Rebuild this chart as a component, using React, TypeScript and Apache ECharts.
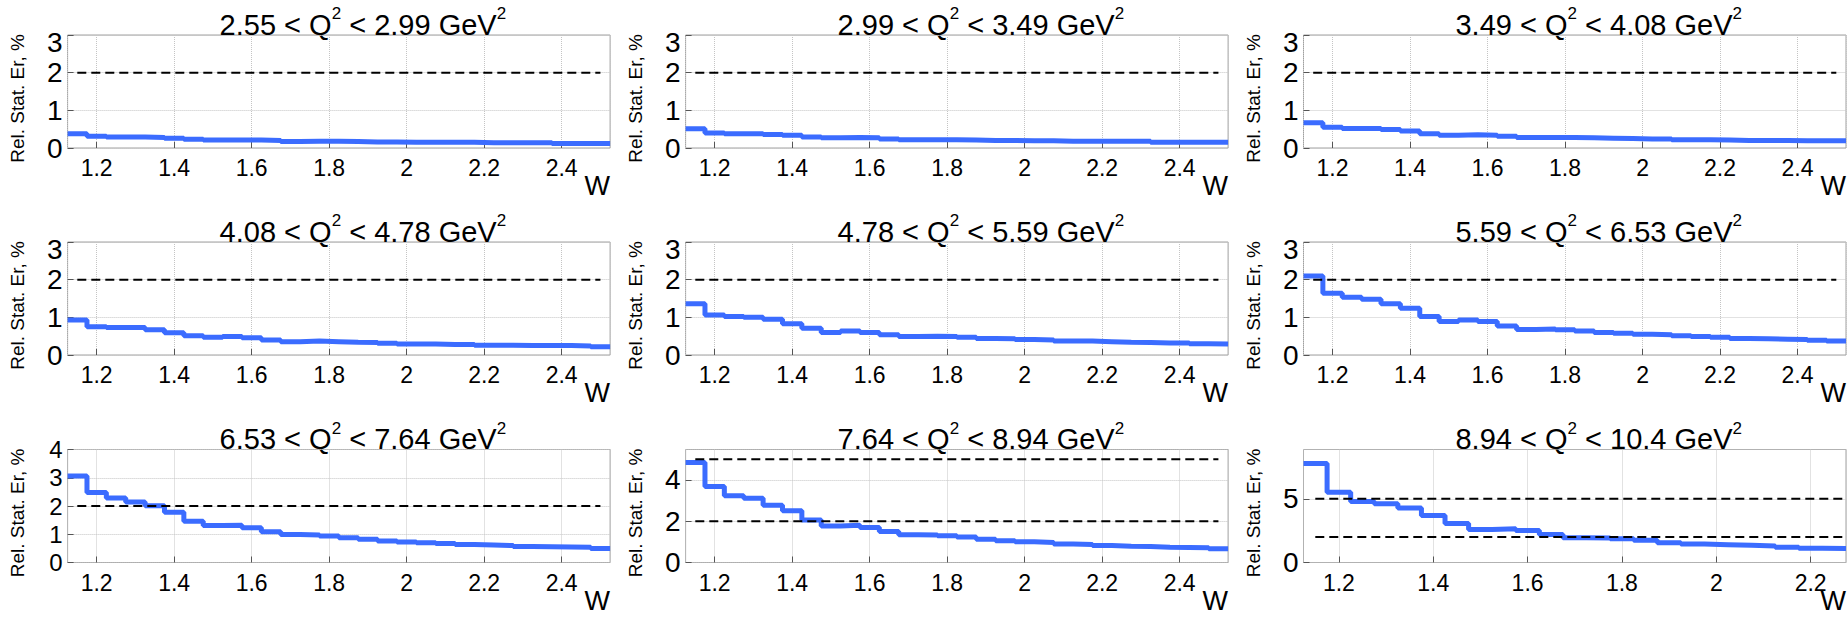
import React, { useEffect, useRef } from "react";
import * as echarts from "echarts";

// Bin edges in W (GeV)
const W_EDGES = [
  1.125, 1.175, 1.225, 1.275, 1.325, 1.375, 1.425, 1.475, 1.525, 1.575,
  1.625, 1.675, 1.725, 1.775, 1.825, 1.875, 1.925, 1.975, 2.025, 2.075,
  2.125, 2.175, 2.225, 2.275, 2.325, 2.375, 2.425, 2.475, 2.525,
];

// Q^2 bin boundaries (GeV^2)
const Q2_LOW = ["2.55", "2.99", "3.49", "4.08", "4.78", "5.59", "6.53", "7.64", "8.94"];
const Q2_HIGH = ["2.99", "3.49", "4.08", "4.78", "5.59", "6.53", "7.64", "8.94", "10.4"];

// Relative statistical error, % (one value per W bin)
const ERR_1 = [0.38, 0.31, 0.29, 0.29, 0.28, 0.26, 0.23, 0.21, 0.21, 0.21, 0.2, 0.17, 0.18, 0.18, 0.17, 0.16, 0.16, 0.15, 0.15, 0.15, 0.15, 0.14, 0.14, 0.14, 0.14, 0.12, 0.12, 0.12];
const ERR_2 = [0.51, 0.4, 0.38, 0.38, 0.36, 0.34, 0.29, 0.27, 0.28, 0.27, 0.24, 0.22, 0.22, 0.22, 0.21, 0.2, 0.2, 0.19, 0.19, 0.18, 0.18, 0.18, 0.18, 0.18, 0.15, 0.15, 0.15, 0.15];
const ERR_3 = [0.67, 0.55, 0.52, 0.52, 0.49, 0.45, 0.38, 0.34, 0.35, 0.34, 0.31, 0.28, 0.28, 0.28, 0.27, 0.26, 0.25, 0.24, 0.24, 0.22, 0.22, 0.21, 0.2, 0.2, 0.2, 0.19, 0.19, 0.19];
const ERR_4 = [0.93, 0.75, 0.73, 0.73, 0.67, 0.59, 0.51, 0.47, 0.49, 0.46, 0.4, 0.355, 0.37, 0.355, 0.34, 0.33, 0.31, 0.29, 0.29, 0.28, 0.28, 0.26, 0.26, 0.25, 0.25, 0.25, 0.24, 0.22];
const ERR_5 = [1.36, 1.06, 1.02, 1.0, 0.95, 0.83, 0.71, 0.6, 0.64, 0.6, 0.54, 0.49, 0.5, 0.49, 0.47, 0.44, 0.43, 0.41, 0.4, 0.37, 0.37, 0.355, 0.34, 0.33, 0.32, 0.32, 0.3, 0.29];
const ERR_6 = [2.1, 1.64, 1.53, 1.48, 1.36, 1.24, 1.02, 0.89, 0.93, 0.89, 0.77, 0.68, 0.69, 0.67, 0.64, 0.6, 0.58, 0.55, 0.54, 0.51, 0.49, 0.47, 0.44, 0.43, 0.42, 0.41, 0.39, 0.37];
const ERR_7 = [3.06, 2.48, 2.28, 2.14, 2.01, 1.78, 1.46, 1.31, 1.32, 1.23, 1.09, 0.99, 0.97, 0.94, 0.88, 0.82, 0.76, 0.73, 0.7, 0.67, 0.64, 0.62, 0.6, 0.57, 0.56, 0.55, 0.54, 0.5];
const ERR_8 = [4.84, 3.68, 3.23, 3.11, 2.77, 2.5, 2.06, 1.77, 1.8, 1.69, 1.5, 1.34, 1.33, 1.29, 1.23, 1.13, 1.05, 1.0, 0.97, 0.9, 0.87, 0.82, 0.79, 0.77, 0.74, 0.73, 0.71, 0.66];
const ERR_9 = [7.77, 5.52, 4.79, 4.61, 4.27, 3.68, 3.06, 2.59, 2.64, 2.51, 2.2, 1.94, 1.93, 1.87, 1.74, 1.55, 1.45, 1.4, 1.35, 1.3, 1.19, 1.11, 1.09];
const ERRORS = [ERR_1, ERR_2, ERR_3, ERR_4, ERR_5, ERR_6, ERR_7, ERR_8, ERR_9];

// Axis ranges
const X_MIN = 1.125;
const X_MAX = [2.525, 2.525, 2.525, 2.525, 2.525, 2.525, 2.525, 2.525, 2.275];
const Y_MAX = [3, 3, 3, 3, 3, 3, 4, 5.47, 8.87];
const Y_STEP = [1, 1, 1, 1, 1, 1, 1, 2, 5];

// Reference limit lines (%)
const LIMITS = [[2], [2], [2], [2], [2], [2], [2], [2, 5], [2, 5]];
const LIMIT_FROM = 1.15;
const LIMIT_TO = 2.5;

// Layout
const COL_LEFT = [67.6, 685.6, 1303.5];
const ROW_TOP = [35, 242, 449.5];
const PLOT_W = 542.5;
const PLOT_H = 113;

const FONT = "'Liberation Sans', Arial, Helvetica, sans-serif";
const BLUE = "#3b6cff";

export default function App() {
  const ref = useRef<HTMLDivElement>(null);

  useEffect(() => {
    if (!ref.current) return;
    const chart = echarts.init(ref.current, undefined, { renderer: "svg" });

    const grids: any[] = [];
    const xAxes: any[] = [];
    const yAxes: any[] = [];
    const series: any[] = [];
    const graphics: any[] = [];

    for (let i = 0; i < 9; i++) {
      const col = i % 3;
      const row = Math.floor(i / 3);
      const left = COL_LEFT[col];
      const top = ROW_TOP[row];
      const yTop = Y_MAX[i];
      // pixel gap between labelled y ticks decides label size / top shift
      const tickGap = (PLOT_H * Y_STEP[i]) / Y_MAX[i];
      const tight = tickGap < 32;
      const yFont = tight ? 24 : 28;
      const topShift = tight ? 0 : 15;
      grids.push({
        left,
        top,
        width: PLOT_W,
        height: PLOT_H,
        show: true,
        borderColor: "#a0a0a0",
        borderWidth: 1,
        backgroundColor: "#fff",
      });
      xAxes.push({
        type: "value",
        gridIndex: i,
        min: X_MIN,
        max: X_MAX[i],
        splitNumber: 7,
        axisLine: { show: false },
        axisTick: { show: true, inside: true, length: 6, lineStyle: { color: "#555", width: 1 } },
        axisLabel: {
          showMinLabel: false,
          showMaxLabel: false,
          fontFamily: FONT,
          fontSize: 23,
          lineHeight: 22,
          color: "#000",
          margin: 9,
        },
        splitLine: { show: true, lineStyle: { color: "#c4c4c4", type: "dotted", width: 1 } },
      });
      yAxes.push({
        type: "value",
        gridIndex: i,
        min: 0,
        // tiny headroom so the top tick is an ordinary tick (not the max label)
        max: yTop + 1e-6,
        interval: Y_STEP[i],
        axisLine: { show: false },
        axisTick: { show: true, inside: true, length: 6, lineStyle: { color: "#555", width: 1 } },
        axisLabel: {
          showMaxLabel: false,
          fontFamily: FONT,
          fontSize: yFont,
          lineHeight: 20,
          color: "#000",
          margin: 5,
          formatter: (v: number) =>
            Math.abs(v - yTop) < 1e-9 ? `{t|${v}}` : `${v}`,
          rich: {
            t: { fontFamily: FONT, fontSize: yFont, lineHeight: 20, color: "#000", padding: [topShift, 0, 0, 0] },
          },
        },
        splitLine: { show: true, lineStyle: { color: "#c4c4c4", type: "dotted", width: 1 } },
      });

      const vals = ERRORS[i];
      const pts: number[][] = vals.map((v, k) => [W_EDGES[k], v]);
      pts.push([W_EDGES[vals.length], vals[vals.length - 1]]);
      series.push({
        type: "line",
        xAxisIndex: i,
        yAxisIndex: i,
        step: "end",
        data: pts,
        symbol: "none",
        lineStyle: { color: BLUE, width: 5 },
        z: 2,
      });
      LIMITS[i].forEach((lv) => {
        series.push({
          type: "line",
          xAxisIndex: i,
          yAxisIndex: i,
          data: [
            [LIMIT_FROM, lv],
            [LIMIT_TO, lv],
          ],
          symbol: "none",
          lineStyle: { color: "#000", width: 2, type: [9, 5] },
          z: 3,
        });
      });

      // title
      graphics.push({
        type: "text",
        x: left + PLOT_W / 2 + 24,
        y: top - 13,
        style: {
          text: `{m|${Q2_LOW[i]} < Q}{s|2}{m| < ${Q2_HIGH[i]} GeV}{s|2}`,
          align: "center",
          verticalAlign: "middle",
          fill: "#000",
          rich: {
            m: { fontFamily: FONT, fontSize: 29, lineHeight: 34, verticalAlign: "bottom", fill: "#000" },
            s: { fontFamily: FONT, fontSize: 17, lineHeight: 14, verticalAlign: "top", fill: "#000" },
          },
        },
      });
      // y axis title
      graphics.push({
        type: "text",
        x: left - 50,
        y: top - 1,
        rotation: Math.PI / 2,
        style: {
          text: "Rel. Stat. Er, %",
          align: "right",
          verticalAlign: "middle",
          fontFamily: FONT,
          fontSize: 19,
          fill: "#000",
        },
      });
      // x axis title
      graphics.push({
        type: "text",
        x: left + PLOT_W,
        y: top + PLOT_H + 38,
        style: {
          text: "W",
          align: "right",
          verticalAlign: "middle",
          fontFamily: FONT,
          fontSize: 27,
          lineHeight: 22,
          fill: "#000",
        },
      });
    }

    chart.setOption({
      animation: false,
      backgroundColor: "#fff",
      grid: grids,
      xAxis: xAxes,
      yAxis: yAxes,
      series,
      graphic: graphics,
    });

    return () => chart.dispose();
  }, []);

  return (
    <div
      ref={ref}
      style={{ position: "fixed", left: 0, top: 0, width: 1847, height: 617 }}
    />
  );
}
